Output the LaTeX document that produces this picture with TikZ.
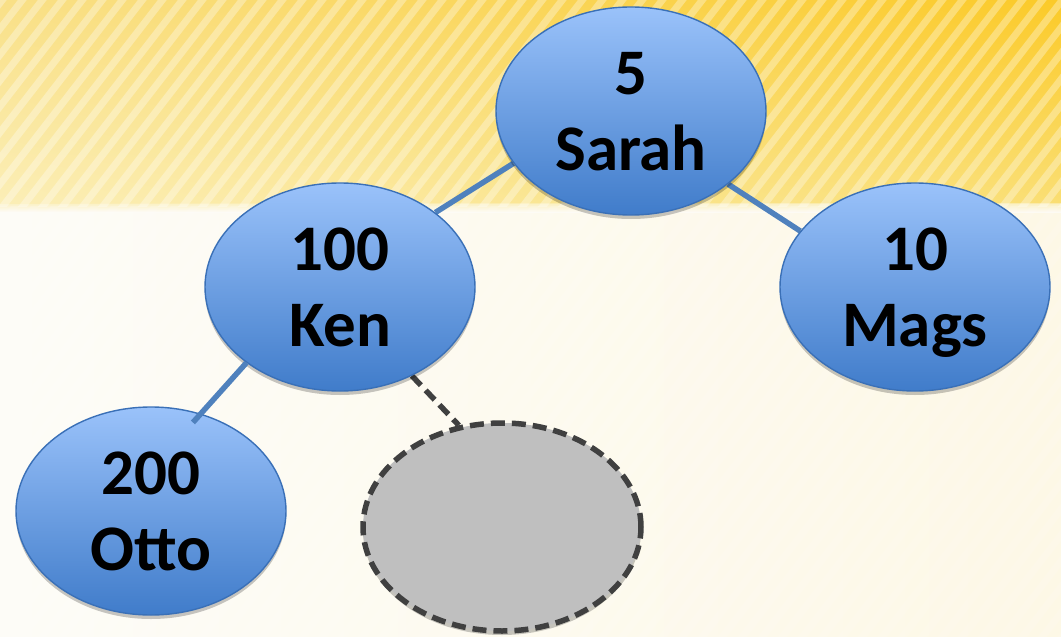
\documentclass[tikz,border=0pt]{standalone}
\usepackage{fontspec}
\setmainfont{Carlito}
\usetikzlibrary{shapes.geometric,shadows,shadings}

\definecolor{bandUL}{RGB}{249,224,135}
\definecolor{bandUR}{RGB}{251,202,40}
\definecolor{bandLL}{RGB}{251,238,182}
\definecolor{bandLR}{RGB}{250,222,115}
\definecolor{paperL}{RGB}{253,252,247}
\definecolor{paperR}{RGB}{253,248,230}
\definecolor{nodeTop}{RGB}{154,194,250}
\definecolor{nodeBot}{RGB}{64,124,202}
\definecolor{nodeEdge}{RGB}{58,112,183}
\definecolor{linkBlue}{RGB}{79,129,189}
\definecolor{holeFill}{RGB}{191,191,191}
\definecolor{holeEdge}{RGB}{64,64,64}

\pgfdeclarelayer{paper}
\pgfdeclarelayer{edges}
\pgfsetlayers{paper,edges,main}

\tikzset{
  keynode/.style={ellipse, draw=nodeEdge, line width=1.4pt,
    top color=nodeTop, bottom color=nodeBot,
    minimum width=270pt, minimum height=208pt, inner sep=0pt,
    align=center, text depth=0pt,
    font=\fontsize{65}{76}\selectfont\bfseries,
    drop shadow={shadow xshift=0pt, shadow yshift=-4pt, opacity=0.22, fill=black}},
  holenode/.style={ellipse, draw=holeEdge, line width=5.5pt,
    dash pattern=on 14pt off 7pt, fill=holeFill,
    minimum width=278pt, minimum height=208pt, inner sep=0pt,
    drop shadow={shadow xshift=0pt, shadow yshift=-4pt, opacity=0.22, fill=black}},
  link/.style={draw=linkBlue, line width=5.5pt},
  holelink/.style={draw=holeEdge, line width=5.5pt, dash pattern=on 13pt off 7pt}
}

\begin{document}
\begin{tikzpicture}[x=1pt, y=-1pt]
  \useasboundingbox (0,0) rectangle (1061,637);

  \begin{pgfonlayer}{paper}
    % paper background
    \shade[left color=paperL, right color=paperR] (0,0) rectangle (1061,637);
    % yellow header band with diagonal stripes
    \shade[upper left=bandUL, upper right=bandUR, lower left=bandLL, lower right=bandLR]
      (0,0) rectangle (1061,203);
    \shade[top color=bandLL, bottom color=paperL, opacity=0.8] (0,203) rectangle (1061,212);
    \begin{scope}
      \clip (0,0) rectangle (1061,206);
      \foreach \s in {-300,-280,...,1120}
        \draw[white, line width=7pt, opacity=0.32] (\s,210) -- ++(170,-220);
    \end{scope}
    \begin{scope}
      \clip (0,206) rectangle (1061,637);
      \foreach \s in {-500,-480,...,1120}
        \draw[white, line width=7pt, opacity=0.12] (\s,640) -- ++(340,-440);
    \end{scope}
  \end{pgfonlayer}

  % tree nodes
  \node[keynode] (sarah) at (631,111) {5\\Sarah};
  \node[keynode] (ken)   at (340,287) {100\\Ken};
  \node[keynode] (mags)  at (915,287) {10\\Mags};
  \node[keynode] (otto)  at (151,511) {200\\Otto};
  \node[holenode] (hole) at (502,527) {};

  % edges, kept behind the nodes
  \begin{pgfonlayer}{edges}
    \path[link] (sarah.-156) -- (ken.38);
    \path[link] (sarah.-37) -- (mags.154);
    \path[holelink] (ken.-51) -- (hole.113);
  \end{pgfonlayer}
  % this one runs a little over the top of its child
  \path[link] (ken.-141) -- ([shift={(-4,10)}]otto.65);
\end{tikzpicture}
\end{document}
